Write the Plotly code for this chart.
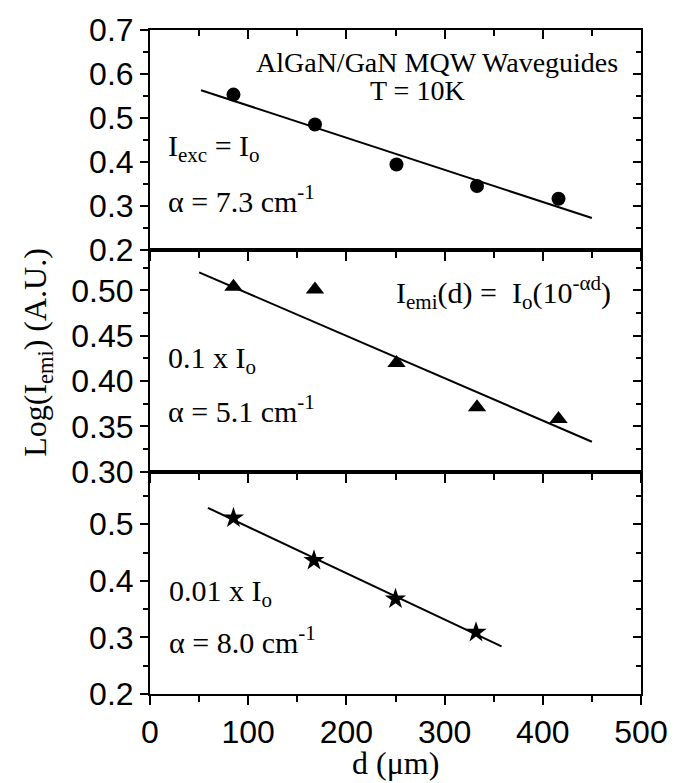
import plotly.graph_objects as go

# ---------------- data ----------------
d_top = [85, 168, 251, 333, 416]
y_top = [0.553, 0.485, 0.394, 0.345, 0.316]
fit_top_x = [52, 450]
fit_top_y = [0.563, 0.272]

d_mid = [85, 168, 251, 333, 416]
y_mid = [0.504, 0.501, 0.420, 0.371, 0.358]
fit_mid_x = [50, 450]
fit_mid_y = [0.520, 0.333]

d_bot = [85, 167, 250, 332]
y_bot = [0.511, 0.436, 0.368, 0.309]
fit_bot_x = [59, 358]
fit_bot_y = [0.529, 0.284]

x_range = [0, 500]
x_ticks = [0, 100, 200, 300, 400, 500]
x_minor_ticks = [50, 150, 250, 350, 450]

y_ranges = [[0.2, 0.7], [0.3, 0.545], [0.2, 0.593]]
y_dticks = [0.1, 0.05, 0.1]
y_minor = [0.05, 0.025, 0.05]
y_formats = [".1f", ".2f", ".1f"]
domains = [[0.6692, 1.0], [0.3349, 0.6692], [0.0, 0.3349]]

SANS = "Liberation Sans, Arial, sans-serif"
SERIF = "Liberation Serif, Times New Roman, serif"

fig = go.Figure()

series = [
    (d_top, y_top, fit_top_x, fit_top_y, "circle", 14),
    (d_mid, y_mid, fit_mid_x, fit_mid_y, "triangle-up", 16),
    (d_bot, y_bot, fit_bot_x, fit_bot_y, "star", 16),
]

for i, (dx, dy, fx, fy, sym, sz) in enumerate(series):
    n = i + 1
    xa = "x" if n == 1 else f"x{n}"
    ya = "y" if n == 1 else f"y{n}"
    fig.add_trace(go.Scatter(x=fx, y=fy, mode="lines", xaxis=xa, yaxis=ya,
                             line=dict(color="black", width=2), showlegend=False))
    fig.add_trace(go.Scatter(x=dx, y=dy, mode="markers", xaxis=xa, yaxis=ya,
                             marker=dict(symbol=sym, size=sz, color="black",
                                         line=dict(width=0)),
                             showlegend=False))
    # dummy traces for mirrored (inward) axes
    fig.add_trace(go.Scatter(x=[None], y=[None], xaxis=f"x{n+3}", yaxis=ya,
                             showlegend=False, hoverinfo="skip"))
    fig.add_trace(go.Scatter(x=[None], y=[None], xaxis=xa, yaxis=f"y{n+3}",
                             showlegend=False, hoverinfo="skip"))

layout = {}
for i in range(3):
    n = i + 1
    xname = "xaxis" if n == 1 else f"xaxis{n}"
    yname = "yaxis" if n == 1 else f"yaxis{n}"
    xa_ref = "x" if n == 1 else f"x{n}"
    ya_ref = "y" if n == 1 else f"y{n}"
    xcommon = dict(range=x_range, tickmode="array", tickvals=x_ticks,
                   showgrid=False, zeroline=False, showline=True,
                   linecolor="black", linewidth=2, tickcolor="black",
                   tickwidth=2, ticklen=9,
                   tickfont=dict(family=SANS, size=32, color="black"))
    layout[xname] = dict(xcommon, domain=[0, 1], anchor=ya_ref, ticks="outside",
                         showticklabels=(n == 3),
                         minor=dict(tickvals=x_minor_ticks, ticks="outside",
                                    ticklen=6, tickwidth=2, tickcolor="black",
                                    showgrid=False))
    layout[f"xaxis{n+3}"] = dict(xcommon, overlaying=xa_ref, side="top",
                                 anchor=ya_ref, ticks="inside",
                                 showticklabels=False,
                                 minor=dict(tickvals=x_minor_ticks,
                                            ticks="inside", ticklen=6, tickwidth=2,
                                            tickcolor="black", showgrid=False))
    ycommon = dict(range=y_ranges[i], dtick=y_dticks[i], tick0=0,
                   tickformat=y_formats[i], showgrid=False, zeroline=False,
                   showline=True, linecolor="black", linewidth=2,
                   tickcolor="black", tickwidth=2, ticklen=8,
                   tickfont=dict(family=SANS, size=32, color="black"))
    layout[yname] = dict(ycommon, domain=domains[i], anchor=xa_ref, ticks="outside",
                         minor=dict(dtick=y_minor[i], ticks="outside", ticklen=5,
                                    tickwidth=2, tickcolor="black", showgrid=False))
    layout[f"yaxis{n+3}"] = dict(ycommon, overlaying=ya_ref, side="right",
                                 anchor=xa_ref, ticks="inside", showticklabels=False,
                                 minor=dict(dtick=y_minor[i], ticks="inside",
                                            ticklen=5, tickwidth=2,
                                            tickcolor="black", showgrid=False))

fig.update_layout(**layout)

ann_font = dict(family=SERIF, size=30, color="black")
annotations = [
    dict(text="AlGaN/GaN MQW Waveguides", x=292, y=0.626, xref="x", yref="y",
         xanchor="center", yanchor="middle", font=dict(family=SERIF, size=28, color="black")),
    dict(text="T = 10K", x=272, y=0.562, xref="x", yref="y",
         xanchor="center", yanchor="middle", font=dict(family=SERIF, size=28, color="black")),
    dict(text="I<sub>exc</sub> = I<sub>o</sub>", x=16, y=0.432, xref="x", yref="y",
         xanchor="left", yanchor="middle", font=ann_font),
    dict(text="α = 7.3 cm<sup>-1</sup>", x=16, y=0.315, xref="x", yref="y",
         xanchor="left", yanchor="middle", font=ann_font),
    dict(text="I<sub>emi</sub>(d) =  I<sub>o</sub>(10<sup>-αd</sup>)", x=248, y=0.498,
         xref="x2", yref="y2", xanchor="left", yanchor="middle", font=ann_font),
    dict(text="0.1 x I<sub>o</sub>", x=16, y=0.423, xref="x2", yref="y2",
         xanchor="left", yanchor="middle", font=ann_font),
    dict(text="α = 5.1 cm<sup>-1</sup>", x=16, y=0.369, xref="x2", yref="y2",
         xanchor="left", yanchor="middle", font=ann_font),
    dict(text="0.01 x I<sub>o</sub>", x=17, y=0.378, xref="x3", yref="y3",
         xanchor="left", yanchor="middle", font=ann_font),
    dict(text="α = 8.0 cm<sup>-1</sup>", x=17, y=0.296, xref="x3", yref="y3",
         xanchor="left", yanchor="middle", font=ann_font),
    dict(text="d (μm)", x=0.5, y=-0.1338, xref="paper", yref="paper",
         xanchor="center", yanchor="bottom", font=dict(family=SERIF, size=32, color="black")),
    dict(text="Log(I<sub>emi</sub>) (A.U.)", x=-0.228, y=0.514, xref="paper", yref="paper",
         xanchor="center", yanchor="middle", textangle=-90,
         font=dict(family=SERIF, size=32, color="black")),
]
for a in annotations:
    a["showarrow"] = False
fig.update_layout(annotations=annotations)

fig.update_layout(width=680, height=783, margin=dict(l=150, r=30, t=29, b=89),
                  paper_bgcolor="white", plot_bgcolor="rgba(0,0,0,0)",
                  showlegend=False)

fig.write_html("out.html")
